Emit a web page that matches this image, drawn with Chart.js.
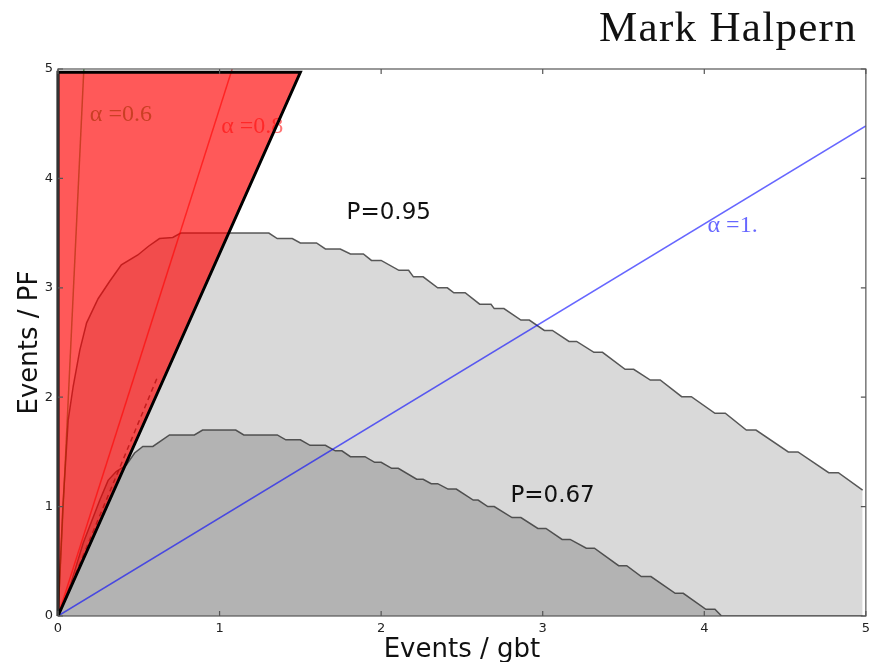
<!DOCTYPE html>
<html>
<head>
<meta charset="utf-8">
<script src="https://cdn.jsdelivr.net/npm/chart.js"></script>
<style>
  html, body { margin: 0; padding: 0; background: #fff; }
</style>
</head>
<body>
<canvas id="events" width="875" height="662"></canvas>
<script>
// tick values
const xTicks = [0, 1, 2, 3, 4, 5];
const yTicks = [0, 1, 2, 3, 4, 5];

// P=0.95 contour
const p95X = [0, 0.012, 0.03, 0.063, 0.094, 0.135, 0.177, 0.248, 0.32, 0.392, 0.494, 0.56, 0.628, 0.71, 0.76,
  1.305, 1.357, 1.45, 1.50, 1.60, 1.655, 1.747, 1.81, 1.89, 1.94, 2.00, 2.11, 2.17, 2.20, 2.26, 2.35, 2.41,
  2.45, 2.52, 2.61, 2.68, 2.70, 2.76, 2.865, 2.917, 3.01, 3.06, 3.163, 3.21, 3.317, 3.37, 3.51, 3.563,
  3.666, 3.727, 3.86, 3.92, 4.066, 4.13, 4.26, 4.32, 4.52, 4.58, 4.77, 4.83, 4.98];
const p95Y = [0, 0.4, 1.0, 1.79, 2.10, 2.43, 2.68, 2.90, 3.06, 3.21, 3.30, 3.38, 3.45, 3.46, 3.50,
  3.50, 3.45, 3.45, 3.41, 3.41, 3.355, 3.355, 3.31, 3.31, 3.25, 3.25, 3.16, 3.16, 3.10, 3.10, 3.0, 3.0,
  2.955, 2.955, 2.85, 2.85, 2.81, 2.81, 2.705, 2.705, 2.61, 2.61, 2.51, 2.51, 2.41, 2.41, 2.255, 2.255,
  2.157, 2.157, 2.005, 2.005, 1.853, 1.853, 1.70, 1.70, 1.50, 1.50, 1.31, 1.31, 1.15];

// P=0.67 contour
const p67X = [0, 0.08, 0.156, 0.259, 0.31, 0.36, 0.423, 0.474, 0.525, 0.587, 0.69, 0.844, 0.895, 1.10,
  1.15, 1.357, 1.41, 1.50, 1.56, 1.655, 1.716, 1.757, 1.81, 1.90, 1.96, 2.0, 2.065, 2.106, 2.22, 2.26,
  2.31, 2.35, 2.414, 2.465, 2.57, 2.60, 2.66, 2.70, 2.81, 2.865, 2.97, 3.02, 3.12, 3.17, 3.27, 3.32,
  3.47, 3.52, 3.61, 3.67, 3.82, 3.87, 4.01, 4.066, 4.107, 4.98];
const p67Y = [0, 0.3, 0.667, 1.06, 1.24, 1.32, 1.38, 1.49, 1.55, 1.55, 1.655, 1.655, 1.70, 1.70,
  1.655, 1.655, 1.61, 1.61, 1.56, 1.56, 1.51, 1.51, 1.456, 1.456, 1.405, 1.405, 1.35, 1.35, 1.25, 1.25,
  1.21, 1.21, 1.16, 1.16, 1.06, 1.06, 1.0, 1.0, 0.90, 0.90, 0.80, 0.80, 0.70, 0.70, 0.62, 0.62,
  0.46, 0.46, 0.36, 0.36, 0.207, 0.207, 0.061, 0.061, 0, 0];

// alpha lines
const a06X = [0, 0.16];
const a06Y = [0, 5];
const a08X = [0, 1.078];
const a08Y = [0, 5];
const a10X = [0, 5];
const a10Y = [0, 4.48];

// dashed edge inside the excluded wedge
const dashX = [0, 0.62];
const dashY = [0, 2.2];

// excluded wedge
const cutEdgeX = [0, 1.5];
const cutEdgeY = [0, 4.97];
const cutTop = 4.97;
const cutX = [0, 0, 1.5, 0];
const cutY = [0, 4.97, 4.97, 0];

const toPts = (xs, ys) => xs.map((x, i) => ({x: x, y: ys[i]}));

// text notes (data coordinates)
const alphaNotes = [
  {text: 'α =0.6', x: 0.197, y: 4.58, color: 'rgba(0,128,0,0.6)'},
  {text: 'α =0.8', x: 1.01, y: 4.47, color: 'rgba(255,0,0,0.55)'},
  {text: 'α =1.', x: 4.02, y: 3.565, color: 'rgba(0,0,255,0.6)'}
];
const pNotes = [
  {text: 'P=0.95', x: 1.786, y: 3.68},
  {text: 'P=0.67', x: 2.80, y: 1.097}
];

const decor = {
  id: 'decor',
  beforeDatasetsDraw(chart) {
    const {ctx, scales: {x, y}} = chart;
    ctx.save();
    ctx.font = '24px "Liberation Serif", serif';
    ctx.textBaseline = 'middle';
    ctx.textAlign = 'left';
    alphaNotes.forEach(n => {
      ctx.fillStyle = n.color;
      ctx.fillText(n.text, x.getPixelForValue(n.x), y.getPixelForValue(n.y));
    });
    ctx.restore();
  },
  afterDatasetsDraw(chart) {
    const {ctx, chartArea: a, scales: {x, y}} = chart;
    ctx.save();
    ctx.strokeStyle = '#555';
    ctx.lineWidth = 1.2;
    ctx.strokeRect(a.left, a.top, a.right - a.left, a.bottom - a.top);
    ctx.beginPath();
    xTicks.forEach(v => {
      const px = x.getPixelForValue(v);
      ctx.moveTo(px, a.bottom); ctx.lineTo(px, a.bottom - 5);
      ctx.moveTo(px, a.top); ctx.lineTo(px, a.top + 5);
    });
    yTicks.forEach(v => {
      const py = y.getPixelForValue(v);
      ctx.moveTo(a.left, py); ctx.lineTo(a.left + 5, py);
      ctx.moveTo(a.right, py); ctx.lineTo(a.right - 5, py);
    });
    ctx.stroke();
    ctx.font = '23px "DejaVu Sans", sans-serif';
    ctx.fillStyle = '#111';
    ctx.textBaseline = 'middle';
    pNotes.forEach(n => {
      ctx.fillText(n.text, x.getPixelForValue(n.x), y.getPixelForValue(n.y));
    });
    ctx.restore();
  },
  afterDraw(chart) {
    const {ctx} = chart;
    ctx.save();
    ctx.font = '43px "Liberation Serif", serif';
    ctx.letterSpacing = '1.3px';
    ctx.fillStyle = '#111';
    ctx.textAlign = 'right';
    ctx.textBaseline = 'alphabetic';
    ctx.fillText('Mark Halpern', 857, 41);
    ctx.restore();
  }
};

Chart.defaults.font.family = '"DejaVu Sans", sans-serif';

new Chart(document.getElementById('events'), {
  type: 'line',
  data: {
    datasets: [
      {label: 'cut outline', data: toPts(cutX, cutY), borderColor: '#000', borderWidth: 3,
        fill: false, order: 1, clip: 4},
      {label: 'cut', data: toPts(cutEdgeX, cutEdgeY), borderWidth: 0, borderColor: 'rgba(0,0,0,0)',
        backgroundColor: 'rgba(255,0,0,0.65)', fill: {value: cutTop}, order: 2},
      {label: 'edge', data: toPts(dashX, dashY), borderColor: 'rgba(40,40,40,0.75)', borderWidth: 1.5,
        borderDash: [5, 4], fill: false, order: 3},
      {label: 'α=0.6', data: toPts(a06X, a06Y), borderColor: 'rgba(0,128,0,0.6)', borderWidth: 1.5,
        fill: false, order: 4},
      {label: 'α=0.8', data: toPts(a08X, a08Y), borderColor: 'rgba(255,0,0,0.6)', borderWidth: 1.5,
        fill: false, order: 4},
      {label: 'α=1.', data: toPts(a10X, a10Y), borderColor: 'rgba(0,0,255,0.6)', borderWidth: 1.5,
        fill: false, order: 5},
      {label: 'P=0.67', data: toPts(p67X, p67Y), borderColor: 'rgba(50,50,50,0.8)', borderWidth: 1.5,
        backgroundColor: '#b3b3b3', fill: 'origin', order: 6},
      {label: 'P=0.95', data: toPts(p95X, p95Y), borderColor: 'rgba(50,50,50,0.8)', borderWidth: 1.5,
        backgroundColor: '#d9d9d9', fill: 'origin', order: 7}
    ]
  },
  options: {
    responsive: false,
    animation: false,
    devicePixelRatio: 1,
    layout: {padding: {top: 69, right: 5, left: 0, bottom: 0}},
    elements: {point: {radius: 0}, line: {tension: 0}},
    plugins: {legend: {display: false}, tooltip: {enabled: false}},
    scales: {
      x: {
        type: 'linear', min: 0, max: 5,
        afterFit: s => { s.height = 46; },
        afterBuildTicks: s => { s.ticks = xTicks.map(v => ({value: v})); },
        grid: {display: false, drawTicks: false},
        border: {display: false},
        ticks: {padding: 5, color: '#222', font: {size: 13}},
        title: {display: true, text: 'Events / gbt', color: '#111', font: {size: 26},
          padding: {top: 0, bottom: -4}}
      },
      y: {
        type: 'linear', min: 0, max: 5,
        afterFit: s => { s.width = 58; },
        afterBuildTicks: s => { s.ticks = yTicks.map(v => ({value: v})); },
        grid: {display: false, drawTicks: false},
        border: {display: false},
        ticks: {padding: 5, color: '#222', font: {size: 13}},
        title: {display: true, text: 'Events / PF', color: '#111', font: {size: 26},
          padding: {top: 15, bottom: 0}}
      }
    }
  },
  plugins: [decor]
});
</script>
</body>
</html>
